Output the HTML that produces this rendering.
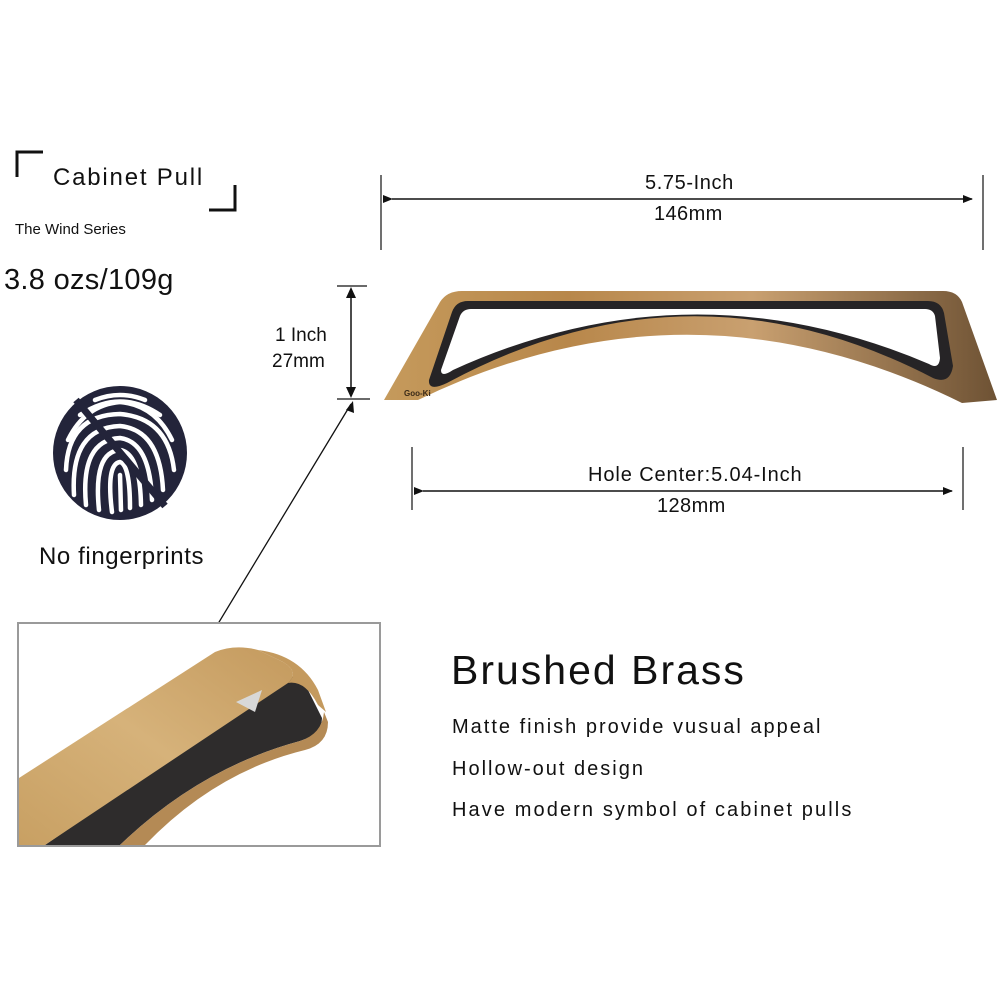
<!DOCTYPE html>
<html><head><meta charset="utf-8"><style>
html,body{margin:0;padding:0;background:#fff;}
body{width:1000px;height:1000px;position:relative;overflow:hidden;font-family:"Liberation Sans","DejaVu Sans",sans-serif;color:#111;}
.t{position:absolute;white-space:nowrap;}
</style></head><body>
<svg width="1000" height="1000" style="position:absolute;left:0;top:0">
<defs>
<linearGradient id="br" x1="0" y1="0" x2="1" y2="0">
<stop offset="0" stop-color="#c59a5c"/><stop offset="0.3" stop-color="#b8874a"/><stop offset="0.6" stop-color="#c9a070"/><stop offset="1" stop-color="#6e5234"/>
</linearGradient>
<linearGradient id="br2" x1="0" y1="1" x2="1" y2="0">
<stop offset="0" stop-color="#c8a063"/><stop offset="0.5" stop-color="#d6b27a"/><stop offset="1" stop-color="#c49a5e"/>
</linearGradient>
<marker id="ar" markerWidth="10" markerHeight="10" refX="9" refY="5" orient="auto" markerUnits="userSpaceOnUse"><path d="M0,1 L10,5 L0,9 Z" fill="#111"/></marker>
</defs>
<path d="M17,177 V152 H43" fill="none" stroke="#111" stroke-width="3"/>
<path d="M209,210 H235 V185" fill="none" stroke="#111" stroke-width="3"/>
<line x1="381" y1="175" x2="381" y2="250" stroke="#111" stroke-width="1.2"/>
<line x1="983" y1="175" x2="983" y2="250" stroke="#111" stroke-width="1.2"/>
<line x1="392" y1="199" x2="972" y2="199" stroke="#111" stroke-width="1.5" marker-end="url(#ar)" marker-start="url(#ar)"/>
<line x1="412" y1="447" x2="412" y2="510" stroke="#111" stroke-width="1.2"/>
<line x1="963" y1="447" x2="963" y2="510" stroke="#111" stroke-width="1.2"/>
<line x1="423" y1="491" x2="952" y2="491" stroke="#111" stroke-width="1.5" marker-end="url(#ar)" marker-start="url(#ar)"/>
<line x1="337" y1="286" x2="367" y2="286" stroke="#111" stroke-width="1.2"/>
<line x1="337" y1="399" x2="370" y2="399" stroke="#111" stroke-width="1.2"/>
<line x1="351" y1="298" x2="351" y2="387" stroke="#111" stroke-width="1.5"/>
<path d="M346,298 L351,287 L356,298 Z M346,387 L351,398 L356,387 Z" fill="#111"/>
<line x1="210" y1="637" x2="351" y2="404" stroke="#111" stroke-width="1.3"/>
<path d="M346,410 L353,401 L354,413 Z" fill="#111"/>
<path d="M384,400 L440,302 Q447,291 462,291 L943,291 Q957,291 962,302 L997,400 L962,403 Q690,268 418,400 Z" fill="url(#br)"/>
<path d="M429,380 L452,312 Q456,301 468,301 L928,301 Q941,301 944,313 L953,366 Q950,385 933,378 Q690,252 447,383 Q428,392 429,380 Z" fill="#262426"/>
<path d="M441,370 L460,316 Q463,309 471,309 L925,309 Q933,309 935,316 L940,358 Q939,370 929,364 Q690,262 453,370 Q441,378 441,370 Z" fill="#fff"/>
<text x="404" y="396" font-size="8" font-weight="bold" fill="#3a2a18" font-family="Liberation Sans">Goo-Ki</text>
<circle cx="120" cy="453" r="67" fill="#23243a"/>
<g fill="none" stroke="#fff" stroke-width="4.5" stroke-linecap="round">
<path d="M95,400 Q120,390 145,400"/>
<path d="M80,415 Q120,388 160,415"/>
<path d="M68,440 Q85,405 120,402 Q155,405 172,440"/>
<path d="M66,470 Q68,415 120,414 Q168,418 174,470"/>
<path d="M74,495 Q70,428 120,426 Q160,430 163,490"/>
<path d="M86,505 Q80,440 120,438 Q150,442 152,500"/>
<path d="M99,510 Q93,452 120,450 Q140,453 141,505"/>
<path d="M112,512 Q106,464 120,462 Q130,465 130,508"/>
<path d="M120,475 L121,510"/>
</g>
<line x1="76" y1="400" x2="165" y2="506" stroke="#23243a" stroke-width="7"/>
<rect x="18" y="623" width="362" height="223" fill="#fff" stroke="#9a9a9a" stroke-width="2"/>
<path d="M45,845 L285,680 Q300,670 308,690 L322,718 Q322,734 300,741 Q200,768 120,845 Z" fill="#2e2c2c"/>
<path d="M120,845 Q200,768 300,741 Q322,734 324,712 L328,722 Q328,744 305,750 Q215,772 145,845 Z" fill="#b48a55"/>
<path d="M19,778 L215,652 Q235,644 258,650 L283,662 Q300,672 288,683 L45,845 L19,845 Z" fill="url(#br2)"/>
<path d="M258,650 Q300,655 318,690 L326,712 L318,705 Q305,680 288,683 Q300,672 283,662 Z" fill="#c49a5e"/>
<path d="M236,702 L262,690 L255,712 Z" fill="#d8d8d8"/>
</svg>
<div class="t" style="left:53px;top:164px;font-size:24px;letter-spacing:1.8px;">Cabinet Pull</div>
<div class="t" style="left:15px;top:221px;font-size:15px;">The Wind Series</div>
<div class="t" style="left:4px;top:264px;font-size:29px;letter-spacing:0.3px;">3.8 ozs/109g</div>
<div class="t" style="left:275px;top:325px;font-size:19px;">1 Inch</div>
<div class="t" style="left:272px;top:351px;font-size:19px;">27mm</div>
<div class="t" style="left:39px;top:543px;font-size:24px;letter-spacing:0.6px;">No fingerprints</div>
<div class="t" style="left:645px;top:172px;font-size:20px;letter-spacing:0.6px;">5.75-Inch</div>
<div class="t" style="left:654px;top:203px;font-size:20px;letter-spacing:0.4px;">146mm</div>
<div class="t" style="left:588px;top:464px;font-size:20px;letter-spacing:0.9px;">Hole Center:5.04-Inch</div>
<div class="t" style="left:657px;top:495px;font-size:20px;letter-spacing:0.4px;">128mm</div>
<div class="t" style="left:451px;top:647px;font-size:41px;letter-spacing:2px;">Brushed Brass</div>
<div class="t" style="left:452px;top:716px;font-size:20px;letter-spacing:2px;">Matte finish provide vusual appeal</div>
<div class="t" style="left:452px;top:758px;font-size:20px;letter-spacing:2px;">Hollow-out design</div>
<div class="t" style="left:452px;top:799px;font-size:20px;letter-spacing:2.1px;">Have modern symbol of cabinet pulls</div>
</body></html>
